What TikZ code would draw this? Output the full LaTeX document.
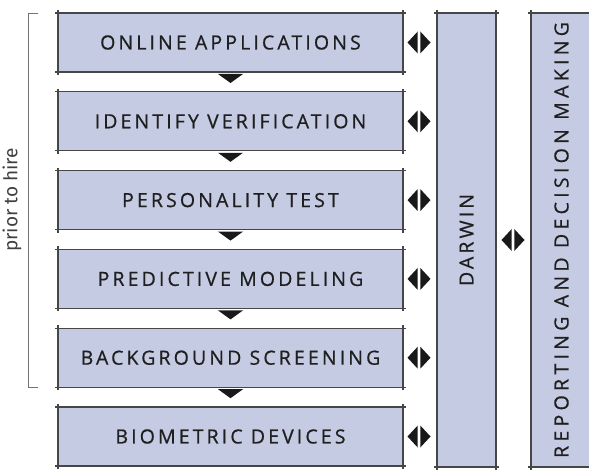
\documentclass[tikz,border=0pt]{standalone}
\usepackage{fontspec}
\setmainfont{Fira Sans}
\newfontfamily\stagefont[LetterSpace=16, FakeBold=0.7]{Open Sans}
\newfontfamily\reportfont[LetterSpace=22, FakeBold=0.7]{Open Sans}
\usetikzlibrary{positioning}
\definecolor{boxblue}{RGB}{197,203,227}
\definecolor{rulegray}{RGB}{70,70,70}
\tikzset{%
  % Specifications for style of boxes:
            stage/.style = {rectangle, fill=boxblue, minimum width=345pt,
                            minimum height=59pt, inner sep=0pt, outer sep=0pt,
                            font=\stagefont\fontsize{19.5}{22}\selectfont, text=black!88},
            column/.style = {rectangle, fill=boxblue, minimum width=59pt,
                            minimum height=454pt, inner sep=0pt, outer sep=0pt,
                            font=\stagefont\fontsize{19.5}{22}\selectfont, text=black!88},
            edge/.style = {draw=rulegray, line width=1.2pt, shorten <=-3pt, shorten >=-3pt},
            bracket/.style = {draw=black!55, line width=0.9pt},
            twoway/.pic = {\fill[black!90] (-1.3,-11) -- (-1.3,11) -- (-11.5,0) -- cycle;
                           \fill[black!90] (1.3,-11) -- (1.3,11) -- (11.5,0) -- cycle;},
            next/.pic = {\fill[black!90] (-12.5,0) -- (12.5,0) -- (0,9) -- cycle;}
}
\newcommand\edges[1]{%
  \draw[edge] (#1.north west) -- (#1.north east);
  \draw[edge] (#1.south west) -- (#1.south east);
  \draw[edge] (#1.north west) -- (#1.south west);
  \draw[edge] (#1.north east) -- (#1.south east);}
\begin{document}
\begin{tikzpicture}[x=1pt, y=-1pt, node distance=19.8pt]
\useasboundingbox (0,0) rectangle (589,470);
                        \node[stage] (b1) at (230.5,42.5) {ONLINE APPLICATIONS};
                        \node[stage] (b2)[below=of b1] {IDENTIFY VERIFICATION};
                        \node[stage] (b3)[below=of b2] {PERSONALITY TEST};
                        \node[stage] (b4)[below=of b3] {PREDICTIVE MODELING};
                        \node[stage] (b5)[below=of b4] {BACKGROUND SCREENING};
                        \node[stage] (b6)[below=of b5] {BIOMETRIC DEVICES};
                        \node[column] (darwin) at (466.5,240) {\rotatebox{90}{DARWIN}};
                        \node[column, minimum width=61pt,
                              font=\reportfont\fontsize{19.5}{22}\selectfont] (report) at (561.5,240)
                            {\rotatebox{90}{REPORTING AND DECISION MAKING}};
                        \foreach \b in {b1,b2,b3,b4,b5,b6,darwin,report} {\edges{\b}}
                        \foreach \a/\b in {b1/b2,b2/b3,b3/b4,b4/b5,b5/b6}
                            \pic at ([yshift=-2pt]\a.south) {next};
                        \foreach \b in {b1,b2,b3,b4,b5,b6}
                            \pic at ([xshift=16pt]\b.east) {twoway};
                        \pic at ([xshift=17pt]darwin.east) {twoway};
                        \draw[bracket] ([xshift=-20pt]b1.north west) -- ++(-10,0)
                            |- ([xshift=-20pt]b5.south west);
                        \node[rotate=90, text=black!75, font=\fontsize{19}{21}\selectfont]
                            (hire) at (12,200) {prior to hire};
                    \end{tikzpicture}
\end{document}
